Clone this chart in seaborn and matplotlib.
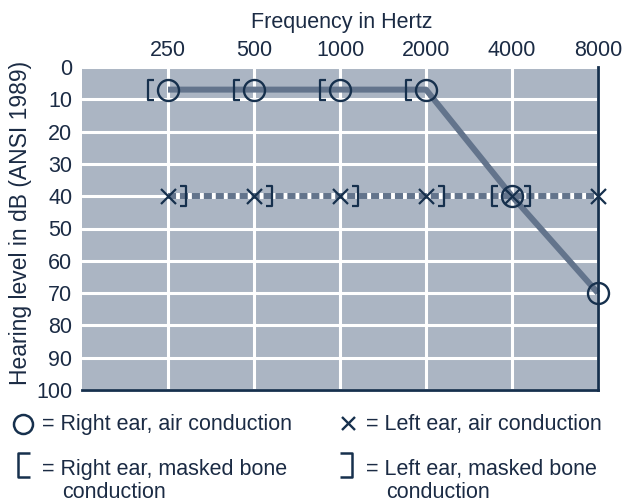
import numpy as np
import pandas as pd
import matplotlib
matplotlib.use("Agg")
import matplotlib.pyplot as plt
from matplotlib.path import Path
from matplotlib.lines import Line2D
import seaborn as sns

# ---- data ----
freqs = [250, 500, 1000, 2000, 4000, 8000]
freq_labels = ["250", "500", "1000", "2000", "4000", "8000"]
right_air = [7, 7, 7, 7, 40, 70]          # circles
left_air = [40, 40, 40, 40, 40, 40]       # crosses
right_bone_freqs = [250, 500, 1000, 2000, 4000]
right_bone = [7, 7, 7, 7, 40]             # "[" masked bone
left_bone_freqs = [250, 500, 1000, 2000, 4000]
left_bone = [40, 40, 40, 40, 40]          # "]" masked bone
y_ticks = [0, 10, 20, 30, 40, 50, 60, 70, 80, 90, 100]

legend_symbols = ["o", "x", "[", "]"]
legend_lines = [
    ["= Right ear, air conduction"],
    ["= Left ear, air conduction"],
    ["= Right ear, masked bone", "conduction"],
    ["= Left ear, masked bone", "conduction"],
]

# ---- style ----
sns.set_style("white")
plt.rcParams["font.family"] = ["Liberation Sans", "DejaVu Sans"]
BG = "#abb5c3"
LINE = "#63748c"
DARK = "#16304d"
TXT = "#1b2b44"
FS = 15.5
W, H = 623, 504
PX = 72 / 100.0  # points per pixel


def bracket(x0, x1, h):
    return Path([(x1, h), (x0, h), (x0, -h), (x1, -h)],
                [Path.MOVETO, Path.LINETO, Path.LINETO, Path.LINETO])


lb_path = bracket(-20, -14, 10)   # "[" offset left of point
rb_path = bracket(18, 12, 10)     # "]" offset right of point

fig = plt.figure(figsize=(W / 100, H / 100), dpi=100)
ax = fig.add_axes([82 / W, 1 - 390 / H, (598 - 82) / W, (390 - 67) / H])
ax.set_facecolor(BG)

df_r = pd.DataFrame({"f": freqs, "db": right_air})
df_l = pd.DataFrame({"f": freqs, "db": left_air})
df_rb = pd.DataFrame({"f": right_bone_freqs, "db": right_bone})
df_lb = pd.DataFrame({"f": left_bone_freqs, "db": left_bone})

# left ear: white underlay + gray dashed line
sns.lineplot(data=df_l, x="f", y="db", ax=ax, color="white", linewidth=4.3,
             clip_on=False, zorder=2)
sns.lineplot(data=df_l, x="f", y="db", ax=ax, color=LINE, linewidth=4.3,
             linestyle=(0, (1.35, 0.65)), clip_on=False, zorder=2.1)
# right ear solid line
sns.lineplot(data=df_r, x="f", y="db", ax=ax, color=LINE, linewidth=4.3,
             clip_on=False, zorder=2.2, solid_capstyle="butt")

# markers
sns.lineplot(data=df_l, x="f", y="db", ax=ax, linestyle="none", marker="x",
             markersize=15 * PX, markeredgewidth=1.6, markeredgecolor=DARK,
             color=DARK, clip_on=False, zorder=4)
sns.lineplot(data=df_rb, x="f", y="db", ax=ax, linestyle="none", marker=lb_path,
             markersize=40 * PX, markeredgewidth=1.6, markeredgecolor=DARK,
             markerfacecolor="none", color=DARK, clip_on=False, zorder=4)
sns.lineplot(data=df_lb, x="f", y="db", ax=ax, linestyle="none", marker=rb_path,
             markersize=36 * PX, markeredgewidth=1.6, markeredgecolor=DARK,
             markerfacecolor="none", color=DARK, clip_on=False, zorder=4)
sns.lineplot(data=df_r, x="f", y="db", ax=ax, linestyle="none", marker="o",
             markersize=21 * PX, markeredgewidth=1.7, markeredgecolor=DARK,
             markerfacecolor="none", color=DARK, clip_on=False, zorder=4)

# axes
ax.set_xscale("log", base=2)
ax.set_xlim(125, 8000)
ax.set_ylim(100, 0)
ax.set_xticks(freqs)
ax.set_xticklabels(freq_labels)
ax.minorticks_off()
ax.set_yticks(y_ticks)
ax.xaxis.tick_top()
ax.tick_params(axis="both", length=0, labelsize=FS, colors=TXT)
ax.tick_params(axis="x", pad=4)
ax.tick_params(axis="y", pad=7)
ax.grid(True, color="white", linewidth=2.2)
ax.set_axisbelow(True)
ax.set_xlabel("")
ax.set_ylabel("")
for s in ["top", "left"]:
    ax.spines[s].set_visible(False)
for s in ["right", "bottom"]:
    ax.spines[s].set_visible(True)
    ax.spines[s].set_color(DARK)
    ax.spines[s].set_linewidth(2.0)
    ax.spines[s].set_zorder(3)

fig.text(342 / W, 1 - 28 / H, "Frequency in Hertz", ha="center", va="baseline",
         fontsize=FS, color=TXT)
fig.text(21 / W, 1 - 223 / H, "Hearing level in dB (ANSI 1989)", ha="center",
         va="center", rotation=90, fontsize=16.5, color=TXT)

# legend below the plot
sym_pos = [(23, 424), (348, 423), (23, 465), (347, 465)]
text_x = [42, 366, 42, 366]
base_y = [[430], [430], [475, 498], [475, 498]]
for sym, (sx, sy), tx, lines, bys in zip(legend_symbols, sym_pos, text_x,
                                        legend_lines, base_y):
    if sym == "o":
        m = dict(marker="o", markersize=19 * PX, markeredgewidth=1.8)
    elif sym == "x":
        m = dict(marker="x", markersize=13 * PX, markeredgewidth=1.7)
    elif sym == "[":
        m = dict(marker=bracket(-5, 6, 11), markersize=24 * PX, markeredgewidth=1.8)
    else:
        m = dict(marker=bracket(5, -6, 11), markersize=24 * PX, markeredgewidth=1.8)
    fig.add_artist(Line2D([sx / W], [1 - sy / H], transform=fig.transFigure,
                          linestyle="none", markeredgecolor=DARK,
                          markerfacecolor="none", color=DARK, **m))
    for i, (line, by) in enumerate(zip(lines, bys)):
        fig.text((tx + (0 if i == 0 else 20)) / W, 1 - by / H, line, ha="left",
                 va="baseline", fontsize=FS, color=TXT)

fig.savefig("out.png", dpi=100)
